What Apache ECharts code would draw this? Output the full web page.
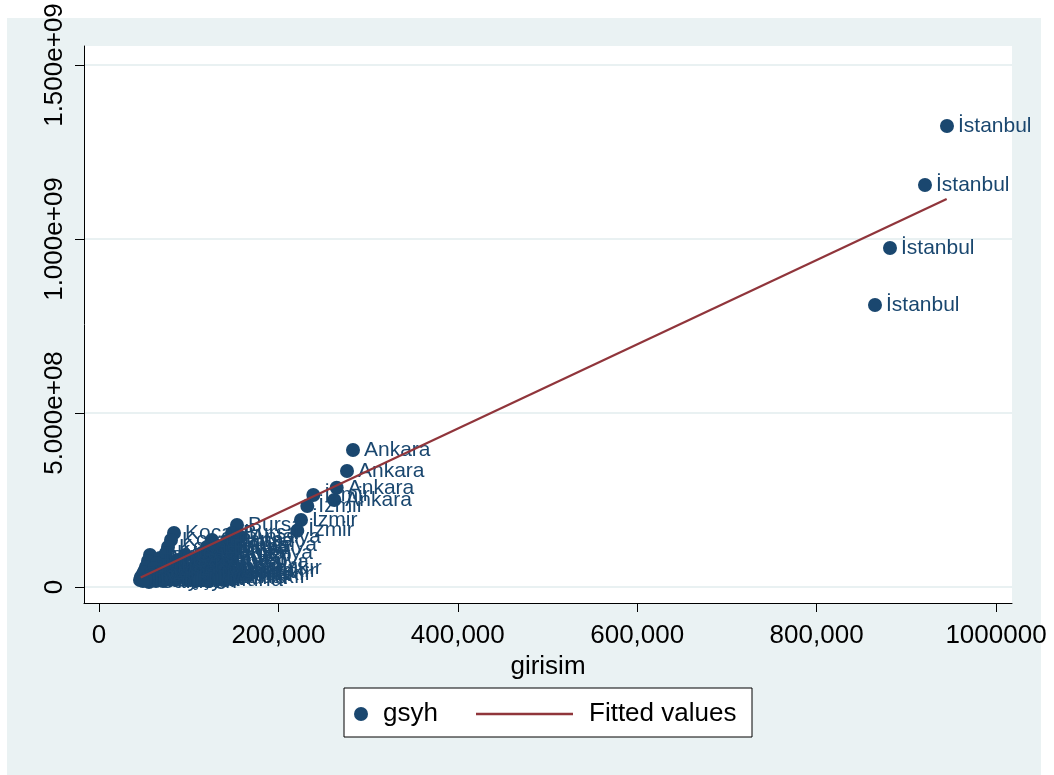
<!DOCTYPE html>
<html>
<head>
<meta charset="utf-8">
<script src="https://cdn.jsdelivr.net/npm/echarts@6/dist/echarts.min.js"></script>
<style>
html,body{margin:0;padding:0;background:#fff;}
#chart{width:1054px;height:775px;}
</style>
</head>
<body>
<div id="chart"></div>
<script>
// ---- data ----
const provinces = [
  'Muğla','Muğla','Muğla','Muğla',
  'Aydın','Aydın','Aydın','Aydın',
  'Hatay','Hatay','Hatay','Hatay',
  'Samsun','Samsun','Samsun','Samsun',
  'Eskişehir','Eskişehir','Eskişehir','Eskişehir',
  'Balıkesir','Balıkesir','Balıkesir','Balıkesir',
  'Sakarya','Sakarya','Sakarya','Sakarya',
  'Tekirdağ','Tekirdağ','Tekirdağ','Tekirdağ',
  'Manisa','Manisa','Manisa','Manisa',
  'Kayseri','Kayseri','Kayseri','Kayseri',
  'Mersin','Mersin','Mersin','Mersin',
  'Gaziantep','Gaziantep','Gaziantep','Gaziantep',
  'Şanlıurfa','Şanlıurfa','Şanlıurfa','Şanlıurfa',
  'Diyarbakır','Diyarbakır','Diyarbakır','Diyarbakır',
  'Adana','Adana','Adana','Adana',
  'Konya','Konya','Konya','Konya',
  'Kocaeli','Kocaeli','Kocaeli','Kocaeli',
  'Bursa','Bursa','Bursa','Bursa',
  'Antalya','Antalya','Antalya','Antalya',
  'Denizli','Denizli','Denizli','Denizli',
  'İzmir','İzmir','İzmir','İzmir',
  'Ankara','Ankara','Ankara','Ankara',
  'İstanbul','İstanbul','İstanbul','İstanbul'
];
const girisim = [
  101447, 95873, 90299, 84725,
  84725, 80266, 75806, 71347,
  73577, 70232, 66888, 63544,
  65773, 62429, 59084, 55740,
  51281, 49051, 46822, 45707,
  62429, 59084, 55740, 52396,
  53510, 51281, 49051, 46822,
  56855, 54625, 52396, 50166,
  68003, 64658, 61314, 57970,
  79151, 74692, 70232, 65773,
  88069, 83610, 79151, 74692,
  95873, 91414, 86954, 82495,
  112595, 108136, 103676, 99217,
  129317, 123743, 118169, 112595,
  125972, 120398, 114824, 109250,
  132661, 127087, 121513, 115939,
  83610, 80266, 76921, 74692,
  153842, 148268, 142694, 137120,
  157187, 152728, 148268, 143809,
  59084, 55740, 52396, 49051,
  238902, 232213, 225190, 221065,
  283159, 276470, 264988, 262312,
  945350, 920825, 881807, 865085
];
const gsyh = [
  4.31e7, 3.45e7, 2.87e7, 2.30e7,
  3.74e7, 2.87e7, 2.30e7, 1.72e7,
  4.31e7, 3.45e7, 2.59e7, 1.72e7,
  3.74e7, 2.87e7, 2.01e7, 1.44e7,
  4.31e7, 3.45e7, 2.59e7, 2.01e7,
  4.89e7, 3.74e7, 2.87e7, 2.01e7,
  6.03e7, 4.89e7, 3.74e7, 2.87e7,
  9.20e7, 7.47e7, 5.75e7, 4.31e7,
  8.33e7, 6.90e7, 5.46e7, 4.02e7,
  7.18e7, 5.75e7, 4.31e7, 2.87e7,
  7.76e7, 6.32e7, 4.89e7, 3.45e7,
  9.20e7, 7.47e7, 5.75e7, 4.02e7,
  4.31e7, 3.45e7, 2.59e7, 2.01e7,
  5.46e7, 4.60e7, 3.74e7, 2.87e7,
  1.351e8, 1.149e8, 9.77e7, 8.05e7,
  1.178e8, 1.006e8, 8.33e7, 6.61e7,
  1.552e8, 1.351e8, 1.149e8, 9.77e7,
  1.782e8, 1.552e8, 1.322e8, 1.121e8,
  1.437e8, 1.207e8, 9.77e7, 7.18e7,
  3.45e7, 2.87e7, 2.30e7, 1.72e7,
  2.644e8, 2.328e8, 1.925e8, 1.618e8,
  3.937e8, 3.333e8, 2.853e8, 2.500e8,
  1.3247e9, 1.1552e9, 9.741e8, 8.104e8
];
// fitted line endpoints (min and max of girisim)
const fitX = [46500, 945000];
const fitY = [2.7e7, 1.115e9];

const xTicks = [0, 200000, 400000, 600000, 800000, 1000000];
const xTickLabels = ['0', '200,000', '400,000', '600,000', '800,000', '1000000'];
const yTicks = [0, 5e8, 1e9, 1.5e9];
const yTickLabels = ['0', '5.000e+08', '1.000e+09', '1.500e+09'];

// ---- chart ----
const FONT = 'Liberation Sans, Arial, sans-serif';
const NAVY = '#1a476f';
const MAROON = '#90353b';

const scatterData = girisim.map((x, i) => ({ name: provinces[i], value: [x, gsyh[i]] }));
const fitData = fitX.map((x, i) => [x, fitY[i]]);

const chart = echarts.init(document.getElementById('chart'), null, { renderer: 'canvas' });
chart.setOption({
  animation: false,
  backgroundColor: 'transparent',
  textStyle: { fontFamily: FONT },
  graphic: [
    { type: 'rect', z: -10, shape: { x: 7, y: 18, width: 1034, height: 757 }, style: { fill: '#eaf2f3' } },
    { type: 'rect', z: 1, shape: { x: 344, y: 688, width: 408, height: 49 }, style: { fill: '#fff', stroke: '#000', lineWidth: 1 } }
  ],
  grid: { left: 84, right: 42, top: 46, bottom: 172, show: true, backgroundColor: '#fff', borderWidth: 0 },
  xAxis: {
    type: 'value',
    min: -16722, max: 1017837,
    name: 'girisim', nameLocation: 'middle', nameGap: 47,
    nameTextStyle: { fontSize: 26, color: '#000', fontFamily: FONT },
    axisLine: { onZero: false, lineStyle: { color: '#000', width: 1 } },
    axisTick: { show: true, length: 9, customValues: xTicks, lineStyle: { color: '#000' } },
    axisLabel: {
      customValues: xTicks, fontSize: 26, color: '#000', margin: 20, fontFamily: FONT,
      formatter: v => xTickLabels[xTicks.indexOf(v)]
    },
    splitLine: { show: false }
  },
  yAxis: {
    type: 'value',
    min: -4.598e7, max: 1.5546e9,
    axisLine: { onZero: false, lineStyle: { color: '#000', width: 1 } },
    axisTick: { show: true, length: 9, customValues: yTicks, lineStyle: { color: '#000' } },
    axisLabel: {
      customValues: yTicks, rotate: 90, fontSize: 26, color: '#000', margin: 16, fontFamily: FONT,
      formatter: v => yTickLabels[yTicks.indexOf(v)]
    },
    splitLine: { show: true, lineStyle: { color: '#e2ecee', width: 1.5 } }
  },
  legend: [
    {
      data: ['gsyh'], left: 354, top: 701, padding: 0, itemWidth: 14, itemHeight: 14,
      selectedMode: false,
      textStyle: { fontSize: 26, color: '#000', fontFamily: FONT, padding: [0, 0, 0, 10] }
    },
    {
      data: [{ name: 'Fitted values', icon: 'rect' }], left: 476, top: 701, padding: 0,
      itemWidth: 97, itemHeight: 2.5, symbolKeepAspect: false,
      selectedMode: false,
      textStyle: { fontSize: 26, color: '#000', fontFamily: FONT, padding: [0, 0, 0, 11] }
    }
  ],
  series: [
    {
      name: 'gsyh', type: 'scatter', z: 2,
      symbol: 'circle', symbolSize: 14,
      itemStyle: { color: NAVY, opacity: 1 },
      label: {
        show: true, position: 'right', distance: 4, formatter: '{b}',
        color: NAVY, fontSize: 21, fontFamily: FONT
      },
      data: scatterData
    },
    {
      name: 'Fitted values', type: 'line', z: 3,
      symbol: 'none', showSymbol: false,
      lineStyle: { color: MAROON, width: 2.2 },
      itemStyle: { color: MAROON },
      data: fitData
    }
  ]
});
</script>
</body>
</html>
